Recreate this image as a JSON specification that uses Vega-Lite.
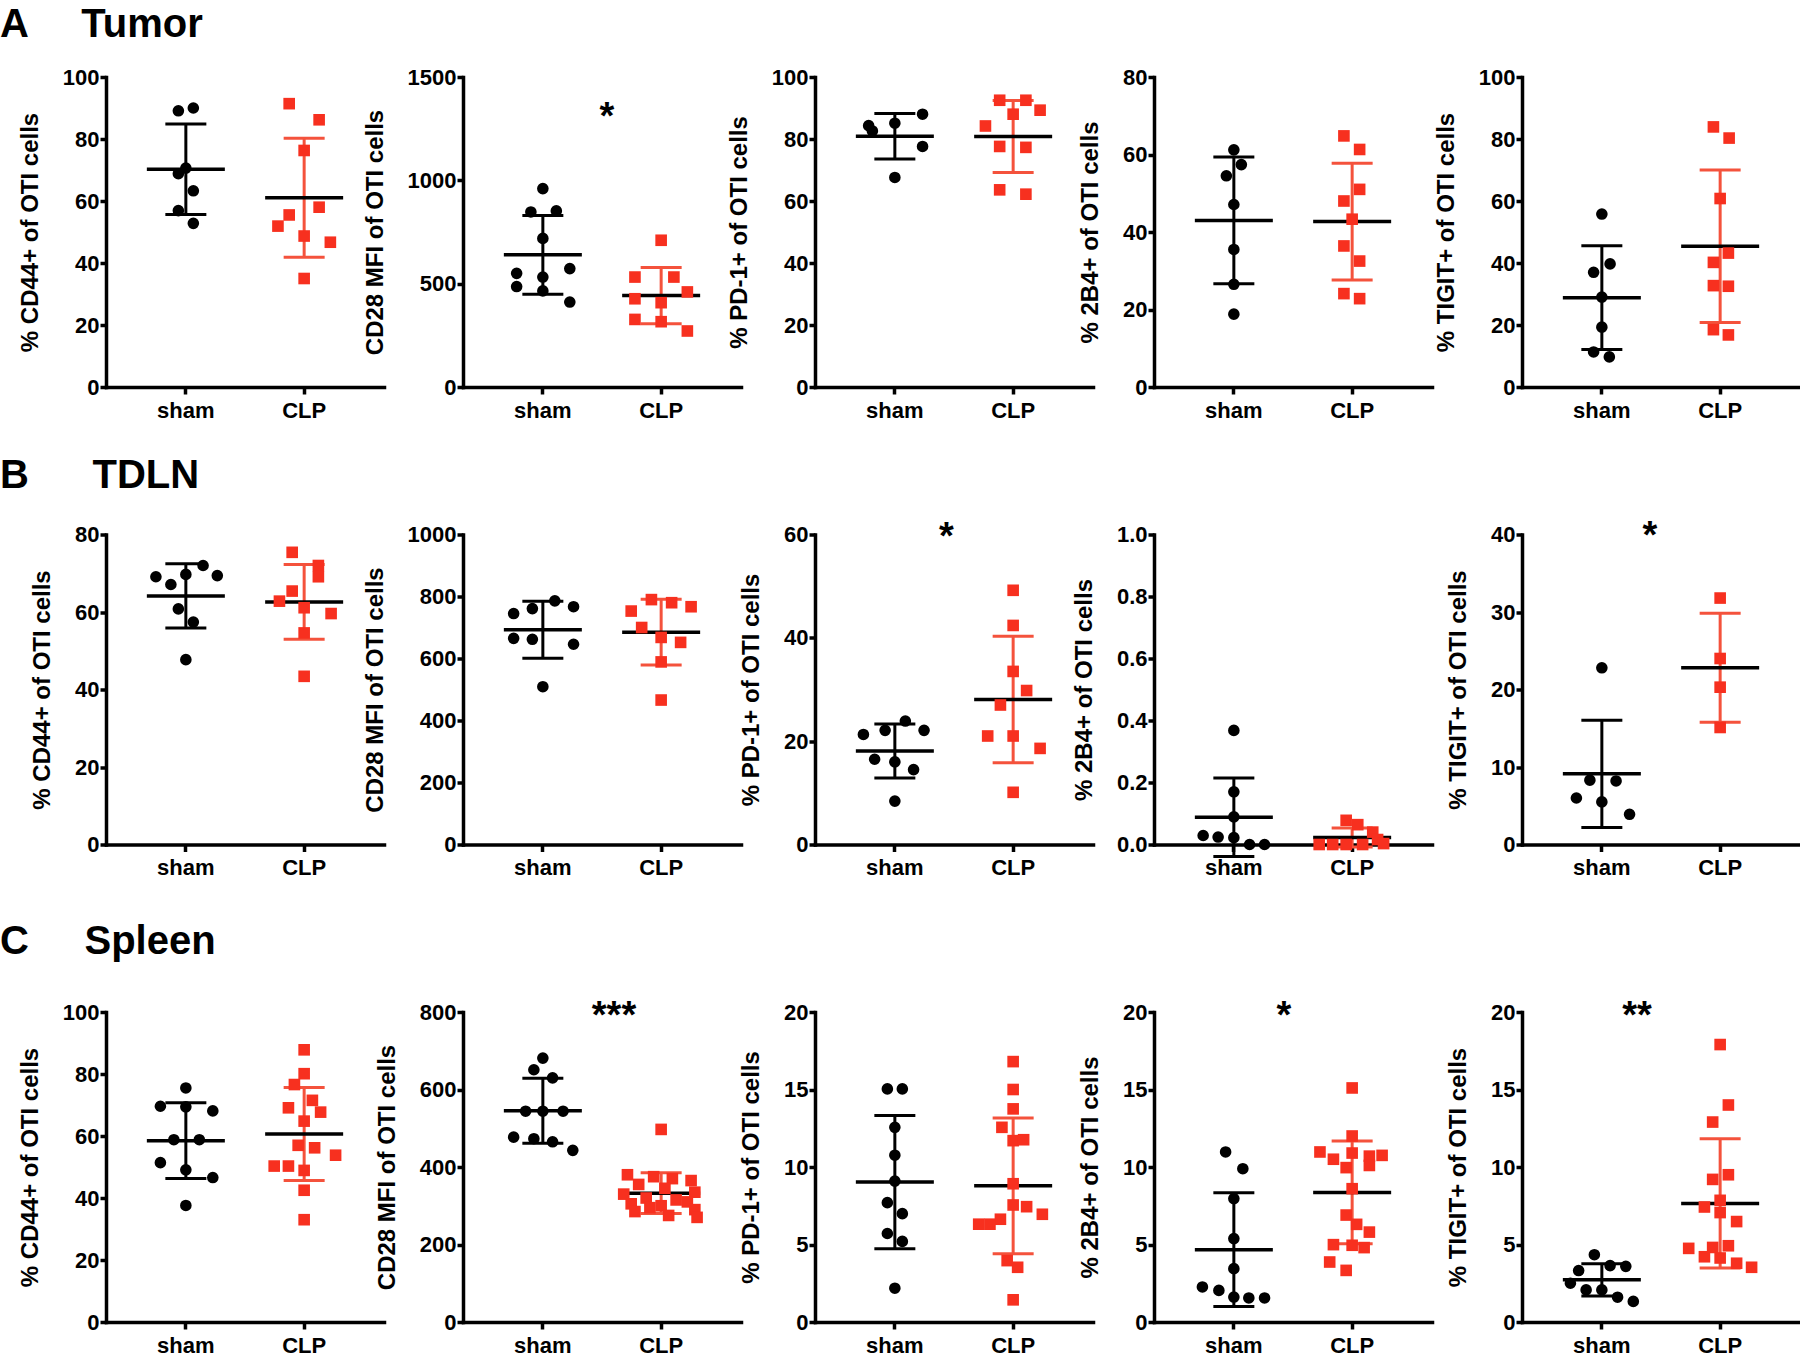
{
"$schema":"https://vega.github.io/schema/vega-lite/v6.json",
"background":"white",
"padding":{"left":0,"top":4,"right":0,"bottom":0},
"columns":5,
"spacing":{"row":147.5,"column":80},
"bounds":"flush",
"config":{
"font":"Liberation Sans",
"view":{"stroke":null},
"axis":{"domainColor":"#000000","domainWidth":3.5,"domainCap":"square","tickColor":"#000000","tickWidth":3.5,"labelFont":"Liberation Sans","labelFontSize":22,"labelFontWeight":"bold","labelColor":"#000000","titleFont":"Liberation Sans","titleFontSize":24,"titleFontWeight":"bold","titleColor":"#000000","grid":false},
"axisX":{"tickSize":7,"labelPadding":6,"labelAngle":0},
"axisY":{"tickSize":6,"labelPadding":1,"titlePadding":20},
"tick":{"opacity":1},
"title":{"font":"Liberation Sans","fontSize":40,"fontWeight":"bold","color":"#000000","anchor":"start","frame":"group"}
},
"datasets":{"pts":[
{"p":"A1","g":"sham","v":89.1,"s":-1},{"p":"A1","g":"sham","v":90.0,"s":1},{"p":"A1","g":"sham","v":70.6,"s":0},{"p":"A1","g":"sham","v":68.8,"s":-1},{"p":"A1","g":"sham","v":63.3,"s":1},{"p":"A1","g":"sham","v":56.9,"s":-1},{"p":"A1","g":"sham","v":52.8,"s":1},
{"p":"A1","g":"CLP","v":91.4,"s":-2},{"p":"A1","g":"CLP","v":86.2,"s":2},{"p":"A1","g":"CLP","v":76.3,"s":0},{"p":"A1","g":"CLP","v":58.0,"s":2},{"p":"A1","g":"CLP","v":55.5,"s":-2},{"p":"A1","g":"CLP","v":51.9,"s":-3.5},{"p":"A1","g":"CLP","v":48.7,"s":0},{"p":"A1","g":"CLP","v":46.7,"s":3.5},{"p":"A1","g":"CLP","v":35.0,"s":0},
{"p":"A2","g":"sham","v":960,"s":0},{"p":"A2","g":"sham","v":847,"s":-1.6},{"p":"A2","g":"sham","v":852,"s":1.8},{"p":"A2","g":"sham","v":719,"s":0},{"p":"A2","g":"sham","v":550,"s":-3.5},{"p":"A2","g":"sham","v":573,"s":3.6},{"p":"A2","g":"sham","v":532,"s":0},{"p":"A2","g":"sham","v":486,"s":-3.5},{"p":"A2","g":"sham","v":465,"s":0},{"p":"A2","g":"sham","v":411,"s":3.6},
{"p":"A2","g":"CLP","v":710,"s":0},{"p":"A2","g":"CLP","v":532,"s":-3.5},{"p":"A2","g":"CLP","v":532,"s":1.7},{"p":"A2","g":"CLP","v":460,"s":3.5},{"p":"A2","g":"CLP","v":427,"s":-3.5},{"p":"A2","g":"CLP","v":408,"s":0},{"p":"A2","g":"CLP","v":327,"s":-3.5},{"p":"A2","g":"CLP","v":316,"s":0},{"p":"A2","g":"CLP","v":271,"s":3.5},
{"p":"A3","g":"sham","v":84.3,"s":-3.5},{"p":"A3","g":"sham","v":82.6,"s":-3},{"p":"A3","g":"sham","v":85.1,"s":0},{"p":"A3","g":"sham","v":88.0,"s":3.7},{"p":"A3","g":"sham","v":77.6,"s":3.7},{"p":"A3","g":"sham","v":67.6,"s":0},
{"p":"A3","g":"CLP","v":92.5,"s":-1.8},{"p":"A3","g":"CLP","v":92.5,"s":1.7},{"p":"A3","g":"CLP","v":89.3,"s":3.6},{"p":"A3","g":"CLP","v":84.2,"s":-3.7},{"p":"A3","g":"CLP","v":88.0,"s":0},{"p":"A3","g":"CLP","v":77.6,"s":-1.8},{"p":"A3","g":"CLP","v":77.3,"s":1.7},{"p":"A3","g":"CLP","v":63.6,"s":-1.8},{"p":"A3","g":"CLP","v":62.2,"s":1.7},
{"p":"A4","g":"sham","v":61.2,"s":0},{"p":"A4","g":"sham","v":57.4,"s":1},{"p":"A4","g":"sham","v":54.5,"s":-1},{"p":"A4","g":"sham","v":47.1,"s":0},{"p":"A4","g":"sham","v":35.5,"s":0},{"p":"A4","g":"sham","v":26.5,"s":0},{"p":"A4","g":"sham","v":18.8,"s":0},
{"p":"A4","g":"CLP","v":64.8,"s":-1.1},{"p":"A4","g":"CLP","v":61.3,"s":1},{"p":"A4","g":"CLP","v":51.0,"s":1},{"p":"A4","g":"CLP","v":48.0,"s":-1.1},{"p":"A4","g":"CLP","v":43.3,"s":0},{"p":"A4","g":"CLP","v":36.4,"s":-1.1},{"p":"A4","g":"CLP","v":32.5,"s":1},{"p":"A4","g":"CLP","v":24.1,"s":-1.1},{"p":"A4","g":"CLP","v":22.8,"s":1},
{"p":"A5","g":"sham","v":55.8,"s":0},{"p":"A5","g":"sham","v":39.7,"s":1.1},{"p":"A5","g":"sham","v":37.0,"s":-1.1},{"p":"A5","g":"sham","v":29.0,"s":0},{"p":"A5","g":"sham","v":19.3,"s":0},{"p":"A5","g":"sham","v":11.3,"s":-1.1},{"p":"A5","g":"sham","v":9.7,"s":1},
{"p":"A5","g":"CLP","v":83.9,"s":-0.9},{"p":"A5","g":"CLP","v":80.3,"s":1.2},{"p":"A5","g":"CLP","v":60.8,"s":0},{"p":"A5","g":"CLP","v":43.2,"s":1.1},{"p":"A5","g":"CLP","v":40.2,"s":-0.9},{"p":"A5","g":"CLP","v":32.7,"s":-0.9},{"p":"A5","g":"CLP","v":32.5,"s":1.1},{"p":"A5","g":"CLP","v":18.5,"s":-0.9},{"p":"A5","g":"CLP","v":16.8,"s":1.1},
{"p":"B1","g":"sham","v":69.1,"s":-4},{"p":"B1","g":"sham","v":67.1,"s":-2},{"p":"B1","g":"sham","v":69.7,"s":0},{"p":"B1","g":"sham","v":72.0,"s":2.3},{"p":"B1","g":"sham","v":69.4,"s":4.2},{"p":"B1","g":"sham","v":60.8,"s":-1},{"p":"B1","g":"sham","v":57.4,"s":1},{"p":"B1","g":"sham","v":47.7,"s":0},
{"p":"B1","g":"CLP","v":75.4,"s":-1.6},{"p":"B1","g":"CLP","v":72.0,"s":1.9},{"p":"B1","g":"CLP","v":69.1,"s":1.9},{"p":"B1","g":"CLP","v":65.4,"s":-1.6},{"p":"B1","g":"CLP","v":62.8,"s":-3.3},{"p":"B1","g":"CLP","v":61.1,"s":0},{"p":"B1","g":"CLP","v":59.6,"s":3.6},{"p":"B1","g":"CLP","v":54.6,"s":0},{"p":"B1","g":"CLP","v":43.4,"s":0},
{"p":"B2","g":"sham","v":786,"s":1.6},{"p":"B2","g":"sham","v":761,"s":-1.4},{"p":"B2","g":"sham","v":767,"s":4.1},{"p":"B2","g":"sham","v":745,"s":-3.9},{"p":"B2","g":"sham","v":665,"s":-3.9},{"p":"B2","g":"sham","v":662,"s":-1.4},{"p":"B2","g":"sham","v":646,"s":4.1},{"p":"B2","g":"sham","v":509,"s":0},
{"p":"B2","g":"CLP","v":790,"s":-1.3},{"p":"B2","g":"CLP","v":780,"s":1.4},{"p":"B2","g":"CLP","v":753,"s":-4},{"p":"B2","g":"CLP","v":767,"s":4},{"p":"B2","g":"CLP","v":700,"s":-2.6},{"p":"B2","g":"CLP","v":668,"s":0},{"p":"B2","g":"CLP","v":652,"s":2.6},{"p":"B2","g":"CLP","v":589,"s":0},{"p":"B2","g":"CLP","v":466,"s":0},
{"p":"B3","g":"sham","v":23.9,"s":1.4},{"p":"B3","g":"sham","v":21.3,"s":-4.2},{"p":"B3","g":"sham","v":22.1,"s":-1.3},{"p":"B3","g":"sham","v":22.1,"s":3.9},{"p":"B3","g":"sham","v":16.5,"s":-2.7},{"p":"B3","g":"sham","v":16.0,"s":0},{"p":"B3","g":"sham","v":14.5,"s":2.5},{"p":"B3","g":"sham","v":8.4,"s":0},
{"p":"B3","g":"CLP","v":49.2,"s":0},{"p":"B3","g":"CLP","v":42.4,"s":0},{"p":"B3","g":"CLP","v":33.5,"s":0},{"p":"B3","g":"CLP","v":29.8,"s":1.8},{"p":"B3","g":"CLP","v":27.0,"s":-1.7},{"p":"B3","g":"CLP","v":21.0,"s":-3.4},{"p":"B3","g":"CLP","v":21.0,"s":0},{"p":"B3","g":"CLP","v":18.6,"s":3.6},{"p":"B3","g":"CLP","v":10.1,"s":0},
{"p":"B4","g":"sham","v":0.368,"s":0},{"p":"B4","g":"sham","v":0.170,"s":0},{"p":"B4","g":"sham","v":0.089,"s":0},{"p":"B4","g":"sham","v":0.029,"s":-4.1},{"p":"B4","g":"sham","v":0.024,"s":-2.1},{"p":"B4","g":"sham","v":0.022,"s":0},{"p":"B4","g":"sham","v":0.0,"s":2.1},{"p":"B4","g":"sham","v":0.0,"s":4.1},
{"p":"B4","g":"CLP","v":0.078,"s":-0.8},{"p":"B4","g":"CLP","v":0.064,"s":0.75},{"p":"B4","g":"CLP","v":0.040,"s":2.75},{"p":"B4","g":"CLP","v":0.016,"s":3.4},{"p":"B4","g":"CLP","v":0.003,"s":4.2},{"p":"B4","g":"CLP","v":0.0,"s":-4.4},{"p":"B4","g":"CLP","v":0.0,"s":-2.6},{"p":"B4","g":"CLP","v":0.0,"s":-0.8},{"p":"B4","g":"CLP","v":0.0,"s":1.4},
{"p":"B5","g":"sham","v":22.8,"s":0},{"p":"B5","g":"sham","v":8.3,"s":-1.6},{"p":"B5","g":"sham","v":8.2,"s":1.9},{"p":"B5","g":"sham","v":6.0,"s":-3.4},{"p":"B5","g":"sham","v":5.5,"s":0},{"p":"B5","g":"sham","v":3.9,"s":3.7},
{"p":"B5","g":"CLP","v":31.8,"s":0},{"p":"B5","g":"CLP","v":24.0,"s":0},{"p":"B5","g":"CLP","v":20.3,"s":0},{"p":"B5","g":"CLP","v":15.1,"s":0},
{"p":"C1","g":"sham","v":75.5,"s":0},{"p":"C1","g":"sham","v":69.6,"s":-3.4},{"p":"C1","g":"sham","v":69.4,"s":0},{"p":"C1","g":"sham","v":68.1,"s":3.6},{"p":"C1","g":"sham","v":58.8,"s":-1.6},{"p":"C1","g":"sham","v":58.8,"s":1.8},{"p":"C1","g":"sham","v":51.4,"s":-3.4},{"p":"C1","g":"sham","v":49.1,"s":0},{"p":"C1","g":"sham","v":46.6,"s":3.6},{"p":"C1","g":"sham","v":37.6,"s":0},
{"p":"C1","g":"CLP","v":87.8,"s":0},{"p":"C1","g":"CLP","v":80.1,"s":0},{"p":"C1","g":"CLP","v":76.6,"s":-1.3},{"p":"C1","g":"CLP","v":71.5,"s":1.1},{"p":"C1","g":"CLP","v":69.1,"s":-2.1},{"p":"C1","g":"CLP","v":67.7,"s":2.2},{"p":"C1","g":"CLP","v":64.8,"s":0},{"p":"C1","g":"CLP","v":57.0,"s":-0.8},{"p":"C1","g":"CLP","v":56.2,"s":1.4},{"p":"C1","g":"CLP","v":53.8,"s":4.2},{"p":"C1","g":"CLP","v":50.3,"s":-4},{"p":"C1","g":"CLP","v":50.3,"s":-2.1},{"p":"C1","g":"CLP","v":48.9,"s":0},{"p":"C1","g":"CLP","v":42.5,"s":0},{"p":"C1","g":"CLP","v":33.0,"s":0},
{"p":"C2","g":"sham","v":681,"s":0},{"p":"C2","g":"sham","v":651,"s":-1.2},{"p":"C2","g":"sham","v":630,"s":1.3},{"p":"C2","g":"sham","v":544,"s":-2.3},{"p":"C2","g":"sham","v":544,"s":0},{"p":"C2","g":"sham","v":544,"s":2.7},{"p":"C2","g":"sham","v":477,"s":-3.9},{"p":"C2","g":"sham","v":473,"s":-1.2},{"p":"C2","g":"sham","v":465,"s":1.3},{"p":"C2","g":"sham","v":443,"s":4},
{"p":"C2","g":"CLP","v":497,"s":0},{"p":"C2","g":"CLP","v":380,"s":-4.5},{"p":"C2","g":"CLP","v":375,"s":-1},{"p":"C2","g":"CLP","v":370,"s":1.5},{"p":"C2","g":"CLP","v":365,"s":4},{"p":"C2","g":"CLP","v":355,"s":-3},{"p":"C2","g":"CLP","v":345,"s":0.5},{"p":"C2","g":"CLP","v":335,"s":4.5},{"p":"C2","g":"CLP","v":330,"s":-5},{"p":"C2","g":"CLP","v":320,"s":-2},{"p":"C2","g":"CLP","v":315,"s":2},{"p":"C2","g":"CLP","v":310,"s":3.5},{"p":"C2","g":"CLP","v":305,"s":-4},{"p":"C2","g":"CLP","v":300,"s":0},{"p":"C2","g":"CLP","v":295,"s":-1.5},{"p":"C2","g":"CLP","v":290,"s":4.5},{"p":"C2","g":"CLP","v":285,"s":-3.5},{"p":"C2","g":"CLP","v":275,"s":1},{"p":"C2","g":"CLP","v":270,"s":4.8},
{"p":"C3","g":"sham","v":15.04,"s":-1},{"p":"C3","g":"sham","v":15.04,"s":1},{"p":"C3","g":"sham","v":12.56,"s":0},{"p":"C3","g":"sham","v":10.76,"s":0},{"p":"C3","g":"sham","v":9.09,"s":0},{"p":"C3","g":"sham","v":7.70,"s":-1},{"p":"C3","g":"sham","v":6.99,"s":1},{"p":"C3","g":"sham","v":5.71,"s":-1},{"p":"C3","g":"sham","v":5.20,"s":1},{"p":"C3","g":"sham","v":2.18,"s":0},
{"p":"C3","g":"CLP","v":16.8,"s":0},{"p":"C3","g":"CLP","v":15.0,"s":0},{"p":"C3","g":"CLP","v":13.75,"s":0},{"p":"C3","g":"CLP","v":12.56,"s":-1.5},{"p":"C3","g":"CLP","v":11.7,"s":0},{"p":"C3","g":"CLP","v":11.76,"s":1.4},{"p":"C3","g":"CLP","v":8.92,"s":0},{"p":"C3","g":"CLP","v":7.55,"s":0},{"p":"C3","g":"CLP","v":7.44,"s":1.8},{"p":"C3","g":"CLP","v":6.95,"s":3.9},{"p":"C3","g":"CLP","v":6.63,"s":-1.7},{"p":"C3","g":"CLP","v":6.31,"s":-4.6},{"p":"C3","g":"CLP","v":6.31,"s":-3.1},{"p":"C3","g":"CLP","v":3.96,"s":-0.8},{"p":"C3","g":"CLP","v":3.53,"s":0.6},{"p":"C3","g":"CLP","v":1.43,"s":0},
{"p":"C4","g":"sham","v":10.97,"s":-1.1},{"p":"C4","g":"sham","v":9.89,"s":1.2},{"p":"C4","g":"sham","v":7.96,"s":0},{"p":"C4","g":"sham","v":5.38,"s":0},{"p":"C4","g":"sham","v":3.44,"s":0},{"p":"C4","g":"sham","v":2.26,"s":-4.2},{"p":"C4","g":"sham","v":2.04,"s":-2},{"p":"C4","g":"sham","v":1.61,"s":0},{"p":"C4","g":"sham","v":1.55,"s":2},{"p":"C4","g":"sham","v":1.55,"s":4.1},
{"p":"C4","g":"CLP","v":15.1,"s":0},{"p":"C4","g":"CLP","v":12.0,"s":0},{"p":"C4","g":"CLP","v":10.97,"s":-4.3},{"p":"C4","g":"CLP","v":10.5,"s":-2.5},{"p":"C4","g":"CLP","v":10.9,"s":0},{"p":"C4","g":"CLP","v":10.7,"s":2.3},{"p":"C4","g":"CLP","v":10.75,"s":4},{"p":"C4","g":"CLP","v":9.96,"s":-0.8},{"p":"C4","g":"CLP","v":10.1,"s":2.3},{"p":"C4","g":"CLP","v":8.6,"s":0},{"p":"C4","g":"CLP","v":6.9,"s":-0.8},{"p":"C4","g":"CLP","v":6.3,"s":0.6},{"p":"C4","g":"CLP","v":5.8,"s":2.3},{"p":"C4","g":"CLP","v":4.99,"s":-2.5},{"p":"C4","g":"CLP","v":4.95,"s":0},{"p":"C4","g":"CLP","v":4.8,"s":1.6},{"p":"C4","g":"CLP","v":3.87,"s":-3},{"p":"C4","g":"CLP","v":3.33,"s":-0.8},
{"p":"C5","g":"sham","v":4.34,"s":-1},{"p":"C5","g":"sham","v":3.32,"s":-3.1},{"p":"C5","g":"sham","v":3.64,"s":1.1},{"p":"C5","g":"sham","v":3.59,"s":3.2},{"p":"C5","g":"sham","v":2.5,"s":-4.2},{"p":"C5","g":"sham","v":2.07,"s":-2.1},{"p":"C5","g":"sham","v":2.07,"s":0},{"p":"C5","g":"sham","v":1.6,"s":2.1},{"p":"C5","g":"sham","v":1.33,"s":4.2},
{"p":"C5","g":"CLP","v":17.9,"s":0},{"p":"C5","g":"CLP","v":14.0,"s":1.1},{"p":"C5","g":"CLP","v":12.9,"s":-1},{"p":"C5","g":"CLP","v":9.2,"s":-1},{"p":"C5","g":"CLP","v":9.5,"s":1.1},{"p":"C5","g":"CLP","v":7.85,"s":0},{"p":"C5","g":"CLP","v":7.42,"s":-2.1},{"p":"C5","g":"CLP","v":7.06,"s":0},{"p":"C5","g":"CLP","v":6.48,"s":2.2},{"p":"C5","g":"CLP","v":4.75,"s":-4.2},{"p":"C5","g":"CLP","v":4.81,"s":-1},{"p":"C5","g":"CLP","v":4.92,"s":1.1},{"p":"C5","g":"CLP","v":4.21,"s":-2.1},{"p":"C5","g":"CLP","v":4.13,"s":0},{"p":"C5","g":"CLP","v":3.79,"s":2.2},{"p":"C5","g":"CLP","v":3.53,"s":4.2}
]},
"concat":[
{"width":277,"height":310,"data":{"name":"pts"},"transform":[{"filter":"datum.p == 'A1'"}],
"title":{"text":"A\u00a0\u00a0\u00a0\u00a0\u2009Tumor","dx":-106,"offset":21.5},
"layer":[
{"transform":[{"aggregate":[{"op":"mean","field":"v","as":"m"},{"op":"stdev","field":"v","as":"sd"}],"groupby":["g"]},{"calculate":"datum.m-datum.sd","as":"lo"},{"calculate":"datum.m+datum.sd","as":"hi"}],
"encoding":{"x":{"field":"g","type":"nominal","scale":{"domain":["sham","CLP"],"range":[0,278],"paddingInner":0,"paddingOuter":0.175},"axis":{"title":null}}},
"layer":[
{"mark":{"type":"rule","strokeWidth":3},"encoding":{"y":{"field":"lo","type":"quantitative","axis":{"title":"% CD44+ of OTI cells","values":[0,20,40,60,80,100],"format":"d"}},"y2":{"field":"hi"},"color":{"condition":{"test":"datum.g == 'CLP'","value":"#f4523c"},"value":"#000000"}}},
{"mark":{"type":"tick","size":41,"thickness":3},"encoding":{"y":{"field":"lo","type":"quantitative","axis":{"title":"% CD44+ of OTI cells","values":[0,20,40,60,80,100],"format":"d"}},"color":{"condition":{"test":"datum.g == 'CLP'","value":"#f4523c"},"value":"#000000"}}},
{"mark":{"type":"tick","size":41,"thickness":3},"encoding":{"y":{"field":"hi","type":"quantitative","axis":{"title":"% CD44+ of OTI cells","values":[0,20,40,60,80,100],"format":"d"}},"color":{"condition":{"test":"datum.g == 'CLP'","value":"#f4523c"},"value":"#000000"}}},
{"mark":{"type":"tick","size":78,"thickness":3.5,"color":"#000000"},"encoding":{"y":{"field":"m","type":"quantitative","axis":{"title":"% CD44+ of OTI cells","values":[0,20,40,60,80,100],"format":"d"}}}}
]},
{"mark":{"type":"point","filled":true,"size":135,"opacity":1,"strokeWidth":0},
"encoding":{"x":{"field":"g","type":"nominal","scale":{"domain":["sham","CLP"],"range":[0,278],"paddingInner":0,"paddingOuter":0.175},"axis":{"title":null}},
"xOffset":{"field":"s","type":"quantitative","scale":{"domain":[-7.9,7.9]}},
"y":{"field":"v","type":"quantitative","scale":{"domain":[0,100],"nice":false},"axis":{"title":"% CD44+ of OTI cells","values":[0,20,40,60,80,100],"format":"d"}},
"shape":{"field":"g","type":"nominal","scale":{"domain":["sham","CLP"],"range":["circle","square"]},"legend":null},
"color":{"field":"g","type":"nominal","scale":{"domain":["sham","CLP"],"range":["#000000","#f7301f"]},"legend":null}}}
]},
{"width":272,"height":310,"data":{"name":"pts"},"transform":[{"filter":"datum.p == 'A2'"}],
"layer":[
{"transform":[{"aggregate":[{"op":"mean","field":"v","as":"m"},{"op":"stdev","field":"v","as":"sd"}],"groupby":["g"]},{"calculate":"datum.m-datum.sd","as":"lo"},{"calculate":"datum.m+datum.sd","as":"hi"}],
"encoding":{"x":{"field":"g","type":"nominal","scale":{"domain":["sham","CLP"],"range":[0,278],"paddingInner":0,"paddingOuter":0.175},"axis":{"title":null}}},
"layer":[
{"mark":{"type":"rule","strokeWidth":3},"encoding":{"y":{"field":"lo","type":"quantitative","axis":{"title":"CD28 MFI of OTI cells","values":[0,500,1000,1500],"format":"d"}},"y2":{"field":"hi"},"color":{"condition":{"test":"datum.g == 'CLP'","value":"#f4523c"},"value":"#000000"}}},
{"mark":{"type":"tick","size":41,"thickness":3},"encoding":{"y":{"field":"lo","type":"quantitative","axis":{"title":"CD28 MFI of OTI cells","values":[0,500,1000,1500],"format":"d"}},"color":{"condition":{"test":"datum.g == 'CLP'","value":"#f4523c"},"value":"#000000"}}},
{"mark":{"type":"tick","size":41,"thickness":3},"encoding":{"y":{"field":"hi","type":"quantitative","axis":{"title":"CD28 MFI of OTI cells","values":[0,500,1000,1500],"format":"d"}},"color":{"condition":{"test":"datum.g == 'CLP'","value":"#f4523c"},"value":"#000000"}}},
{"mark":{"type":"tick","size":78,"thickness":3.5,"color":"#000000"},"encoding":{"y":{"field":"m","type":"quantitative","axis":{"title":"CD28 MFI of OTI cells","values":[0,500,1000,1500],"format":"d"}}}}
]},
{"mark":{"type":"point","filled":true,"size":135,"opacity":1,"strokeWidth":0},
"encoding":{"x":{"field":"g","type":"nominal","scale":{"domain":["sham","CLP"],"range":[0,278],"paddingInner":0,"paddingOuter":0.175},"axis":{"title":null}},
"xOffset":{"field":"s","type":"quantitative","scale":{"domain":[-7.9,7.9]}},
"y":{"field":"v","type":"quantitative","scale":{"domain":[0,1500],"nice":false},"axis":{"title":"CD28 MFI of OTI cells","values":[0,500,1000,1500],"format":"d"}},
"shape":{"field":"g","type":"nominal","scale":{"domain":["sham","CLP"],"range":["circle","square"]},"legend":null},
"color":{"field":"g","type":"nominal","scale":{"domain":["sham","CLP"],"range":["#000000","#f7301f"]},"legend":null}}},
{"transform":[{"aggregate":[{"op":"count","as":"n"}]}],"mark":{"type":"text","text":"*","fontSize":38,"fontWeight":"bold","baseline":"alphabetic","align":"center","dx":8,"color":"#000000"},"encoding":{"y":{"datum":1246,"type":"quantitative","axis":{"title":"CD28 MFI of OTI cells","values":[0,500,1000,1500],"format":"d"}}}}
]},
{"width":259,"height":310,"data":{"name":"pts"},"transform":[{"filter":"datum.p == 'A3'"}],
"layer":[
{"transform":[{"aggregate":[{"op":"mean","field":"v","as":"m"},{"op":"stdev","field":"v","as":"sd"}],"groupby":["g"]},{"calculate":"datum.m-datum.sd","as":"lo"},{"calculate":"datum.m+datum.sd","as":"hi"}],
"encoding":{"x":{"field":"g","type":"nominal","scale":{"domain":["sham","CLP"],"range":[0,278],"paddingInner":0,"paddingOuter":0.175},"axis":{"title":null}}},
"layer":[
{"mark":{"type":"rule","strokeWidth":3},"encoding":{"y":{"field":"lo","type":"quantitative","axis":{"title":"% PD-1+ of OTI cells","values":[0,20,40,60,80,100],"format":"d"}},"y2":{"field":"hi"},"color":{"condition":{"test":"datum.g == 'CLP'","value":"#f4523c"},"value":"#000000"}}},
{"mark":{"type":"tick","size":41,"thickness":3},"encoding":{"y":{"field":"lo","type":"quantitative","axis":{"title":"% PD-1+ of OTI cells","values":[0,20,40,60,80,100],"format":"d"}},"color":{"condition":{"test":"datum.g == 'CLP'","value":"#f4523c"},"value":"#000000"}}},
{"mark":{"type":"tick","size":41,"thickness":3},"encoding":{"y":{"field":"hi","type":"quantitative","axis":{"title":"% PD-1+ of OTI cells","values":[0,20,40,60,80,100],"format":"d"}},"color":{"condition":{"test":"datum.g == 'CLP'","value":"#f4523c"},"value":"#000000"}}},
{"mark":{"type":"tick","size":78,"thickness":3.5,"color":"#000000"},"encoding":{"y":{"field":"m","type":"quantitative","axis":{"title":"% PD-1+ of OTI cells","values":[0,20,40,60,80,100],"format":"d"}}}}
]},
{"mark":{"type":"point","filled":true,"size":135,"opacity":1,"strokeWidth":0},
"encoding":{"x":{"field":"g","type":"nominal","scale":{"domain":["sham","CLP"],"range":[0,278],"paddingInner":0,"paddingOuter":0.175},"axis":{"title":null}},
"xOffset":{"field":"s","type":"quantitative","scale":{"domain":[-7.9,7.9]}},
"y":{"field":"v","type":"quantitative","scale":{"domain":[0,100],"nice":false},"axis":{"title":"% PD-1+ of OTI cells","values":[0,20,40,60,80,100],"format":"d"}},
"shape":{"field":"g","type":"nominal","scale":{"domain":["sham","CLP"],"range":["circle","square"]},"legend":null},
"color":{"field":"g","type":"nominal","scale":{"domain":["sham","CLP"],"range":["#000000","#f7301f"]},"legend":null}}}
]},
{"width":288,"height":310,"data":{"name":"pts"},"transform":[{"filter":"datum.p == 'A4'"}],
"layer":[
{"transform":[{"aggregate":[{"op":"mean","field":"v","as":"m"},{"op":"stdev","field":"v","as":"sd"}],"groupby":["g"]},{"calculate":"datum.m-datum.sd","as":"lo"},{"calculate":"datum.m+datum.sd","as":"hi"}],
"encoding":{"x":{"field":"g","type":"nominal","scale":{"domain":["sham","CLP"],"range":[0,278],"paddingInner":0,"paddingOuter":0.175},"axis":{"title":null}}},
"layer":[
{"mark":{"type":"rule","strokeWidth":3},"encoding":{"y":{"field":"lo","type":"quantitative","axis":{"title":"% 2B4+ of OTI cells","values":[0,20,40,60,80],"format":"d"}},"y2":{"field":"hi"},"color":{"condition":{"test":"datum.g == 'CLP'","value":"#f4523c"},"value":"#000000"}}},
{"mark":{"type":"tick","size":41,"thickness":3},"encoding":{"y":{"field":"lo","type":"quantitative","axis":{"title":"% 2B4+ of OTI cells","values":[0,20,40,60,80],"format":"d"}},"color":{"condition":{"test":"datum.g == 'CLP'","value":"#f4523c"},"value":"#000000"}}},
{"mark":{"type":"tick","size":41,"thickness":3},"encoding":{"y":{"field":"hi","type":"quantitative","axis":{"title":"% 2B4+ of OTI cells","values":[0,20,40,60,80],"format":"d"}},"color":{"condition":{"test":"datum.g == 'CLP'","value":"#f4523c"},"value":"#000000"}}},
{"mark":{"type":"tick","size":78,"thickness":3.5,"color":"#000000"},"encoding":{"y":{"field":"m","type":"quantitative","axis":{"title":"% 2B4+ of OTI cells","values":[0,20,40,60,80],"format":"d"}}}}
]},
{"mark":{"type":"point","filled":true,"size":135,"opacity":1,"strokeWidth":0},
"encoding":{"x":{"field":"g","type":"nominal","scale":{"domain":["sham","CLP"],"range":[0,278],"paddingInner":0,"paddingOuter":0.175},"axis":{"title":null}},
"xOffset":{"field":"s","type":"quantitative","scale":{"domain":[-7.9,7.9]}},
"y":{"field":"v","type":"quantitative","scale":{"domain":[0,80],"nice":false},"axis":{"title":"% 2B4+ of OTI cells","values":[0,20,40,60,80],"format":"d"}},
"shape":{"field":"g","type":"nominal","scale":{"domain":["sham","CLP"],"range":["circle","square"]},"legend":null},
"color":{"field":"g","type":"nominal","scale":{"domain":["sham","CLP"],"range":["#000000","#f7301f"]},"legend":null}}}
]},
{"width":278,"height":310,"data":{"name":"pts"},"transform":[{"filter":"datum.p == 'A5'"}],
"layer":[
{"transform":[{"aggregate":[{"op":"mean","field":"v","as":"m"},{"op":"stdev","field":"v","as":"sd"}],"groupby":["g"]},{"calculate":"datum.m-datum.sd","as":"lo"},{"calculate":"datum.m+datum.sd","as":"hi"}],
"encoding":{"x":{"field":"g","type":"nominal","scale":{"domain":["sham","CLP"],"range":[0,278],"paddingInner":0,"paddingOuter":0.175},"axis":{"title":null}}},
"layer":[
{"mark":{"type":"rule","strokeWidth":3},"encoding":{"y":{"field":"lo","type":"quantitative","axis":{"title":"% TIGIT+ of OTI cells","values":[0,20,40,60,80,100],"format":"d"}},"y2":{"field":"hi"},"color":{"condition":{"test":"datum.g == 'CLP'","value":"#f4523c"},"value":"#000000"}}},
{"mark":{"type":"tick","size":41,"thickness":3},"encoding":{"y":{"field":"lo","type":"quantitative","axis":{"title":"% TIGIT+ of OTI cells","values":[0,20,40,60,80,100],"format":"d"}},"color":{"condition":{"test":"datum.g == 'CLP'","value":"#f4523c"},"value":"#000000"}}},
{"mark":{"type":"tick","size":41,"thickness":3},"encoding":{"y":{"field":"hi","type":"quantitative","axis":{"title":"% TIGIT+ of OTI cells","values":[0,20,40,60,80,100],"format":"d"}},"color":{"condition":{"test":"datum.g == 'CLP'","value":"#f4523c"},"value":"#000000"}}},
{"mark":{"type":"tick","size":78,"thickness":3.5,"color":"#000000"},"encoding":{"y":{"field":"m","type":"quantitative","axis":{"title":"% TIGIT+ of OTI cells","values":[0,20,40,60,80,100],"format":"d"}}}}
]},
{"mark":{"type":"point","filled":true,"size":135,"opacity":1,"strokeWidth":0},
"encoding":{"x":{"field":"g","type":"nominal","scale":{"domain":["sham","CLP"],"range":[0,278],"paddingInner":0,"paddingOuter":0.175},"axis":{"title":null}},
"xOffset":{"field":"s","type":"quantitative","scale":{"domain":[-7.9,7.9]}},
"y":{"field":"v","type":"quantitative","scale":{"domain":[0,100],"nice":false},"axis":{"title":"% TIGIT+ of OTI cells","values":[0,20,40,60,80,100],"format":"d"}},
"shape":{"field":"g","type":"nominal","scale":{"domain":["sham","CLP"],"range":["circle","square"]},"legend":null},
"color":{"field":"g","type":"nominal","scale":{"domain":["sham","CLP"],"range":["#000000","#f7301f"]},"legend":null}}}
]},
{"width":277,"height":329.5,"data":{"name":"pts"},"transform":[{"filter":"datum.p == 'B1'"}],
"title":{"text":"B\u00a0\u00a0\u00a0\u00a0\u00a0\u2009TDLN","dx":-106,"offset":27.5},
"layer":[
{"transform":[{"aggregate":[{"op":"mean","field":"v","as":"m"},{"op":"stdev","field":"v","as":"sd"}],"groupby":["g"]},{"calculate":"datum.m-datum.sd","as":"lo"},{"calculate":"datum.m+datum.sd","as":"hi"}],
"encoding":{"x":{"field":"g","type":"nominal","scale":{"domain":["sham","CLP"],"range":[0,278],"paddingInner":0,"paddingOuter":0.175},"axis":{"title":null,"offset":-19.5}}},
"layer":[
{"mark":{"type":"rule","strokeWidth":3},"encoding":{"y":{"field":"lo","type":"quantitative","axis":{"title":"% CD44+ of OTI cells","values":[0,20,40,60,80],"format":"d"}},"y2":{"field":"hi"},"color":{"condition":{"test":"datum.g == 'CLP'","value":"#f4523c"},"value":"#000000"}}},
{"mark":{"type":"tick","size":41,"thickness":3},"encoding":{"y":{"field":"lo","type":"quantitative","axis":{"title":"% CD44+ of OTI cells","values":[0,20,40,60,80],"format":"d"}},"color":{"condition":{"test":"datum.g == 'CLP'","value":"#f4523c"},"value":"#000000"}}},
{"mark":{"type":"tick","size":41,"thickness":3},"encoding":{"y":{"field":"hi","type":"quantitative","axis":{"title":"% CD44+ of OTI cells","values":[0,20,40,60,80],"format":"d"}},"color":{"condition":{"test":"datum.g == 'CLP'","value":"#f4523c"},"value":"#000000"}}},
{"mark":{"type":"tick","size":78,"thickness":3.5,"color":"#000000"},"encoding":{"y":{"field":"m","type":"quantitative","axis":{"title":"% CD44+ of OTI cells","values":[0,20,40,60,80],"format":"d"}}}}
]},
{"mark":{"type":"point","filled":true,"size":135,"opacity":1,"strokeWidth":0},
"encoding":{"x":{"field":"g","type":"nominal","scale":{"domain":["sham","CLP"],"range":[0,278],"paddingInner":0,"paddingOuter":0.175},"axis":{"title":null,"offset":-19.5}},
"xOffset":{"field":"s","type":"quantitative","scale":{"domain":[-7.9,7.9]}},
"y":{"field":"v","type":"quantitative","scale":{"domain":[0,80],"nice":false,"range":[310,0]},"axis":{"title":"% CD44+ of OTI cells","values":[0,20,40,60,80],"format":"d"}},
"shape":{"field":"g","type":"nominal","scale":{"domain":["sham","CLP"],"range":["circle","square"]},"legend":null},
"color":{"field":"g","type":"nominal","scale":{"domain":["sham","CLP"],"range":["#000000","#f7301f"]},"legend":null}}}
]},
{"width":272,"height":329.5,"data":{"name":"pts"},"transform":[{"filter":"datum.p == 'B2'"}],
"layer":[
{"transform":[{"aggregate":[{"op":"mean","field":"v","as":"m"},{"op":"stdev","field":"v","as":"sd"}],"groupby":["g"]},{"calculate":"datum.m-datum.sd","as":"lo"},{"calculate":"datum.m+datum.sd","as":"hi"}],
"encoding":{"x":{"field":"g","type":"nominal","scale":{"domain":["sham","CLP"],"range":[0,278],"paddingInner":0,"paddingOuter":0.175},"axis":{"title":null,"offset":-19.5}}},
"layer":[
{"mark":{"type":"rule","strokeWidth":3},"encoding":{"y":{"field":"lo","type":"quantitative","axis":{"title":"CD28 MFI of OTI cells","values":[0,200,400,600,800,1000],"format":"d"}},"y2":{"field":"hi"},"color":{"condition":{"test":"datum.g == 'CLP'","value":"#f4523c"},"value":"#000000"}}},
{"mark":{"type":"tick","size":41,"thickness":3},"encoding":{"y":{"field":"lo","type":"quantitative","axis":{"title":"CD28 MFI of OTI cells","values":[0,200,400,600,800,1000],"format":"d"}},"color":{"condition":{"test":"datum.g == 'CLP'","value":"#f4523c"},"value":"#000000"}}},
{"mark":{"type":"tick","size":41,"thickness":3},"encoding":{"y":{"field":"hi","type":"quantitative","axis":{"title":"CD28 MFI of OTI cells","values":[0,200,400,600,800,1000],"format":"d"}},"color":{"condition":{"test":"datum.g == 'CLP'","value":"#f4523c"},"value":"#000000"}}},
{"mark":{"type":"tick","size":78,"thickness":3.5,"color":"#000000"},"encoding":{"y":{"field":"m","type":"quantitative","axis":{"title":"CD28 MFI of OTI cells","values":[0,200,400,600,800,1000],"format":"d"}}}}
]},
{"mark":{"type":"point","filled":true,"size":135,"opacity":1,"strokeWidth":0},
"encoding":{"x":{"field":"g","type":"nominal","scale":{"domain":["sham","CLP"],"range":[0,278],"paddingInner":0,"paddingOuter":0.175},"axis":{"title":null,"offset":-19.5}},
"xOffset":{"field":"s","type":"quantitative","scale":{"domain":[-7.9,7.9]}},
"y":{"field":"v","type":"quantitative","scale":{"domain":[0,1000],"nice":false,"range":[310,0]},"axis":{"title":"CD28 MFI of OTI cells","values":[0,200,400,600,800,1000],"format":"d"}},
"shape":{"field":"g","type":"nominal","scale":{"domain":["sham","CLP"],"range":["circle","square"]},"legend":null},
"color":{"field":"g","type":"nominal","scale":{"domain":["sham","CLP"],"range":["#000000","#f7301f"]},"legend":null}}}
]},
{"width":259,"height":329.5,"data":{"name":"pts"},"transform":[{"filter":"datum.p == 'B3'"}],
"layer":[
{"transform":[{"aggregate":[{"op":"mean","field":"v","as":"m"},{"op":"stdev","field":"v","as":"sd"}],"groupby":["g"]},{"calculate":"datum.m-datum.sd","as":"lo"},{"calculate":"datum.m+datum.sd","as":"hi"}],
"encoding":{"x":{"field":"g","type":"nominal","scale":{"domain":["sham","CLP"],"range":[0,278],"paddingInner":0,"paddingOuter":0.175},"axis":{"title":null,"offset":-19.5}}},
"layer":[
{"mark":{"type":"rule","strokeWidth":3},"encoding":{"y":{"field":"lo","type":"quantitative","axis":{"title":"% PD-1+ of OTI cells","values":[0,20,40,60],"format":"d"}},"y2":{"field":"hi"},"color":{"condition":{"test":"datum.g == 'CLP'","value":"#f4523c"},"value":"#000000"}}},
{"mark":{"type":"tick","size":41,"thickness":3},"encoding":{"y":{"field":"lo","type":"quantitative","axis":{"title":"% PD-1+ of OTI cells","values":[0,20,40,60],"format":"d"}},"color":{"condition":{"test":"datum.g == 'CLP'","value":"#f4523c"},"value":"#000000"}}},
{"mark":{"type":"tick","size":41,"thickness":3},"encoding":{"y":{"field":"hi","type":"quantitative","axis":{"title":"% PD-1+ of OTI cells","values":[0,20,40,60],"format":"d"}},"color":{"condition":{"test":"datum.g == 'CLP'","value":"#f4523c"},"value":"#000000"}}},
{"mark":{"type":"tick","size":78,"thickness":3.5,"color":"#000000"},"encoding":{"y":{"field":"m","type":"quantitative","axis":{"title":"% PD-1+ of OTI cells","values":[0,20,40,60],"format":"d"}}}}
]},
{"mark":{"type":"point","filled":true,"size":135,"opacity":1,"strokeWidth":0},
"encoding":{"x":{"field":"g","type":"nominal","scale":{"domain":["sham","CLP"],"range":[0,278],"paddingInner":0,"paddingOuter":0.175},"axis":{"title":null,"offset":-19.5}},
"xOffset":{"field":"s","type":"quantitative","scale":{"domain":[-7.9,7.9]}},
"y":{"field":"v","type":"quantitative","scale":{"domain":[0,60],"nice":false,"range":[310,0]},"axis":{"title":"% PD-1+ of OTI cells","values":[0,20,40,60],"format":"d"}},
"shape":{"field":"g","type":"nominal","scale":{"domain":["sham","CLP"],"range":["circle","square"]},"legend":null},
"color":{"field":"g","type":"nominal","scale":{"domain":["sham","CLP"],"range":["#000000","#f7301f"]},"legend":null}}},
{"transform":[{"aggregate":[{"op":"count","as":"n"}]}],"mark":{"type":"text","text":"*","fontSize":38,"fontWeight":"bold","baseline":"alphabetic","align":"center","dx":2,"color":"#000000"},"encoding":{"y":{"datum":57.2,"type":"quantitative","axis":{"title":"% PD-1+ of OTI cells","values":[0,20,40,60],"format":"d"}}}}
]},
{"width":288,"height":329.5,"data":{"name":"pts"},"transform":[{"filter":"datum.p == 'B4'"}],
"layer":[
{"transform":[{"aggregate":[{"op":"mean","field":"v","as":"m"},{"op":"stdev","field":"v","as":"sd"}],"groupby":["g"]},{"calculate":"datum.m-datum.sd","as":"lo"},{"calculate":"datum.m+datum.sd","as":"hi"}],
"encoding":{"x":{"field":"g","type":"nominal","scale":{"domain":["sham","CLP"],"range":[0,278],"paddingInner":0,"paddingOuter":0.175},"axis":{"title":null,"offset":-19.5}}},
"layer":[
{"mark":{"type":"rule","strokeWidth":3},"encoding":{"y":{"field":"lo","type":"quantitative","axis":{"title":"% 2B4+ of OTI cells","values":[0,0.2,0.4,0.6,0.8,1.0],"format":".1f"}},"y2":{"field":"hi"},"color":{"condition":{"test":"datum.g == 'CLP'","value":"#f4523c"},"value":"#000000"}}},
{"mark":{"type":"tick","size":41,"thickness":3},"encoding":{"y":{"field":"lo","type":"quantitative","axis":{"title":"% 2B4+ of OTI cells","values":[0,0.2,0.4,0.6,0.8,1.0],"format":".1f"}},"color":{"condition":{"test":"datum.g == 'CLP'","value":"#f4523c"},"value":"#000000"}}},
{"mark":{"type":"tick","size":41,"thickness":3},"encoding":{"y":{"field":"hi","type":"quantitative","axis":{"title":"% 2B4+ of OTI cells","values":[0,0.2,0.4,0.6,0.8,1.0],"format":".1f"}},"color":{"condition":{"test":"datum.g == 'CLP'","value":"#f4523c"},"value":"#000000"}}},
{"mark":{"type":"tick","size":78,"thickness":3.5,"color":"#000000"},"encoding":{"y":{"field":"m","type":"quantitative","axis":{"title":"% 2B4+ of OTI cells","values":[0,0.2,0.4,0.6,0.8,1.0],"format":".1f"}}}}
]},
{"mark":{"type":"point","filled":true,"size":135,"opacity":1,"strokeWidth":0},
"encoding":{"x":{"field":"g","type":"nominal","scale":{"domain":["sham","CLP"],"range":[0,278],"paddingInner":0,"paddingOuter":0.175},"axis":{"title":null,"offset":-19.5}},
"xOffset":{"field":"s","type":"quantitative","scale":{"domain":[-7.9,7.9]}},
"y":{"field":"v","type":"quantitative","scale":{"domain":[0,1],"nice":false,"range":[310,0]},"axis":{"title":"% 2B4+ of OTI cells","values":[0,0.2,0.4,0.6,0.8,1.0],"format":".1f"}},
"shape":{"field":"g","type":"nominal","scale":{"domain":["sham","CLP"],"range":["circle","square"]},"legend":null},
"color":{"field":"g","type":"nominal","scale":{"domain":["sham","CLP"],"range":["#000000","#f7301f"]},"legend":null}}}
]},
{"width":278,"height":329.5,"data":{"name":"pts"},"transform":[{"filter":"datum.p == 'B5'"}],
"layer":[
{"transform":[{"aggregate":[{"op":"mean","field":"v","as":"m"},{"op":"stdev","field":"v","as":"sd"}],"groupby":["g"]},{"calculate":"datum.m-datum.sd","as":"lo"},{"calculate":"datum.m+datum.sd","as":"hi"}],
"encoding":{"x":{"field":"g","type":"nominal","scale":{"domain":["sham","CLP"],"range":[0,278],"paddingInner":0,"paddingOuter":0.175},"axis":{"title":null,"offset":-19.5}}},
"layer":[
{"mark":{"type":"rule","strokeWidth":3},"encoding":{"y":{"field":"lo","type":"quantitative","axis":{"title":"% TIGIT+ of OTI cells","values":[0,10,20,30,40],"format":"d"}},"y2":{"field":"hi"},"color":{"condition":{"test":"datum.g == 'CLP'","value":"#f4523c"},"value":"#000000"}}},
{"mark":{"type":"tick","size":41,"thickness":3},"encoding":{"y":{"field":"lo","type":"quantitative","axis":{"title":"% TIGIT+ of OTI cells","values":[0,10,20,30,40],"format":"d"}},"color":{"condition":{"test":"datum.g == 'CLP'","value":"#f4523c"},"value":"#000000"}}},
{"mark":{"type":"tick","size":41,"thickness":3},"encoding":{"y":{"field":"hi","type":"quantitative","axis":{"title":"% TIGIT+ of OTI cells","values":[0,10,20,30,40],"format":"d"}},"color":{"condition":{"test":"datum.g == 'CLP'","value":"#f4523c"},"value":"#000000"}}},
{"mark":{"type":"tick","size":78,"thickness":3.5,"color":"#000000"},"encoding":{"y":{"field":"m","type":"quantitative","axis":{"title":"% TIGIT+ of OTI cells","values":[0,10,20,30,40],"format":"d"}}}}
]},
{"mark":{"type":"point","filled":true,"size":135,"opacity":1,"strokeWidth":0},
"encoding":{"x":{"field":"g","type":"nominal","scale":{"domain":["sham","CLP"],"range":[0,278],"paddingInner":0,"paddingOuter":0.175},"axis":{"title":null,"offset":-19.5}},
"xOffset":{"field":"s","type":"quantitative","scale":{"domain":[-7.9,7.9]}},
"y":{"field":"v","type":"quantitative","scale":{"domain":[0,40],"nice":false,"range":[310,0]},"axis":{"title":"% TIGIT+ of OTI cells","values":[0,10,20,30,40],"format":"d"}},
"shape":{"field":"g","type":"nominal","scale":{"domain":["sham","CLP"],"range":["circle","square"]},"legend":null},
"color":{"field":"g","type":"nominal","scale":{"domain":["sham","CLP"],"range":["#000000","#f7301f"]},"legend":null}}},
{"transform":[{"aggregate":[{"op":"count","as":"n"}]}],"mark":{"type":"text","text":"*","fontSize":38,"fontWeight":"bold","baseline":"alphabetic","align":"center","dx":-11,"color":"#000000"},"encoding":{"y":{"datum":38.2,"type":"quantitative","axis":{"title":"% TIGIT+ of OTI cells","values":[0,10,20,30,40],"format":"d"}}}}
]},
{"width":277,"height":310,"data":{"name":"pts"},"transform":[{"filter":"datum.p == 'C1'"}],
"title":{"text":"C\u00a0\u00a0\u00a0\u00a0\u00a0Spleen","dx":-106,"offset":39},
"layer":[
{"transform":[{"aggregate":[{"op":"mean","field":"v","as":"m"},{"op":"stdev","field":"v","as":"sd"}],"groupby":["g"]},{"calculate":"datum.m-datum.sd","as":"lo"},{"calculate":"datum.m+datum.sd","as":"hi"}],
"encoding":{"x":{"field":"g","type":"nominal","scale":{"domain":["sham","CLP"],"range":[0,278],"paddingInner":0,"paddingOuter":0.175},"axis":{"title":null}}},
"layer":[
{"mark":{"type":"rule","strokeWidth":3},"encoding":{"y":{"field":"lo","type":"quantitative","axis":{"title":"% CD44+ of OTI cells","values":[0,20,40,60,80,100],"format":"d"}},"y2":{"field":"hi"},"color":{"condition":{"test":"datum.g == 'CLP'","value":"#f4523c"},"value":"#000000"}}},
{"mark":{"type":"tick","size":41,"thickness":3},"encoding":{"y":{"field":"lo","type":"quantitative","axis":{"title":"% CD44+ of OTI cells","values":[0,20,40,60,80,100],"format":"d"}},"color":{"condition":{"test":"datum.g == 'CLP'","value":"#f4523c"},"value":"#000000"}}},
{"mark":{"type":"tick","size":41,"thickness":3},"encoding":{"y":{"field":"hi","type":"quantitative","axis":{"title":"% CD44+ of OTI cells","values":[0,20,40,60,80,100],"format":"d"}},"color":{"condition":{"test":"datum.g == 'CLP'","value":"#f4523c"},"value":"#000000"}}},
{"mark":{"type":"tick","size":78,"thickness":3.5,"color":"#000000"},"encoding":{"y":{"field":"m","type":"quantitative","axis":{"title":"% CD44+ of OTI cells","values":[0,20,40,60,80,100],"format":"d"}}}}
]},
{"mark":{"type":"point","filled":true,"size":135,"opacity":1,"strokeWidth":0},
"encoding":{"x":{"field":"g","type":"nominal","scale":{"domain":["sham","CLP"],"range":[0,278],"paddingInner":0,"paddingOuter":0.175},"axis":{"title":null}},
"xOffset":{"field":"s","type":"quantitative","scale":{"domain":[-7.9,7.9]}},
"y":{"field":"v","type":"quantitative","scale":{"domain":[0,100],"nice":false},"axis":{"title":"% CD44+ of OTI cells","values":[0,20,40,60,80,100],"format":"d"}},
"shape":{"field":"g","type":"nominal","scale":{"domain":["sham","CLP"],"range":["circle","square"]},"legend":null},
"color":{"field":"g","type":"nominal","scale":{"domain":["sham","CLP"],"range":["#000000","#f7301f"]},"legend":null}}}
]},
{"width":272,"height":310,"data":{"name":"pts"},"transform":[{"filter":"datum.p == 'C2'"}],
"layer":[
{"transform":[{"aggregate":[{"op":"mean","field":"v","as":"m"},{"op":"stdev","field":"v","as":"sd"}],"groupby":["g"]},{"calculate":"datum.m-datum.sd","as":"lo"},{"calculate":"datum.m+datum.sd","as":"hi"}],
"encoding":{"x":{"field":"g","type":"nominal","scale":{"domain":["sham","CLP"],"range":[0,278],"paddingInner":0,"paddingOuter":0.175},"axis":{"title":null}}},
"layer":[
{"mark":{"type":"rule","strokeWidth":3},"encoding":{"y":{"field":"lo","type":"quantitative","axis":{"title":"CD28 MFI of OTI cells","values":[0,200,400,600,800],"format":"d"}},"y2":{"field":"hi"},"color":{"condition":{"test":"datum.g == 'CLP'","value":"#f4523c"},"value":"#000000"}}},
{"mark":{"type":"tick","size":41,"thickness":3},"encoding":{"y":{"field":"lo","type":"quantitative","axis":{"title":"CD28 MFI of OTI cells","values":[0,200,400,600,800],"format":"d"}},"color":{"condition":{"test":"datum.g == 'CLP'","value":"#f4523c"},"value":"#000000"}}},
{"mark":{"type":"tick","size":41,"thickness":3},"encoding":{"y":{"field":"hi","type":"quantitative","axis":{"title":"CD28 MFI of OTI cells","values":[0,200,400,600,800],"format":"d"}},"color":{"condition":{"test":"datum.g == 'CLP'","value":"#f4523c"},"value":"#000000"}}},
{"mark":{"type":"tick","size":78,"thickness":3.5,"color":"#000000"},"encoding":{"y":{"field":"m","type":"quantitative","axis":{"title":"CD28 MFI of OTI cells","values":[0,200,400,600,800],"format":"d"}}}}
]},
{"mark":{"type":"point","filled":true,"size":135,"opacity":1,"strokeWidth":0},
"encoding":{"x":{"field":"g","type":"nominal","scale":{"domain":["sham","CLP"],"range":[0,278],"paddingInner":0,"paddingOuter":0.175},"axis":{"title":null}},
"xOffset":{"field":"s","type":"quantitative","scale":{"domain":[-7.9,7.9]}},
"y":{"field":"v","type":"quantitative","scale":{"domain":[0,800],"nice":false},"axis":{"title":"CD28 MFI of OTI cells","values":[0,200,400,600,800],"format":"d"}},
"shape":{"field":"g","type":"nominal","scale":{"domain":["sham","CLP"],"range":["circle","square"]},"legend":null},
"color":{"field":"g","type":"nominal","scale":{"domain":["sham","CLP"],"range":["#000000","#f7301f"]},"legend":null}}},
{"transform":[{"aggregate":[{"op":"count","as":"n"}]}],"mark":{"type":"text","text":"***","fontSize":38,"fontWeight":"bold","baseline":"alphabetic","align":"center","dx":15,"color":"#000000"},"encoding":{"y":{"datum":758.7,"type":"quantitative","axis":{"title":"CD28 MFI of OTI cells","values":[0,200,400,600,800],"format":"d"}}}}
]},
{"width":259,"height":310,"data":{"name":"pts"},"transform":[{"filter":"datum.p == 'C3'"}],
"layer":[
{"transform":[{"aggregate":[{"op":"mean","field":"v","as":"m"},{"op":"stdev","field":"v","as":"sd"}],"groupby":["g"]},{"calculate":"datum.m-datum.sd","as":"lo"},{"calculate":"datum.m+datum.sd","as":"hi"}],
"encoding":{"x":{"field":"g","type":"nominal","scale":{"domain":["sham","CLP"],"range":[0,278],"paddingInner":0,"paddingOuter":0.175},"axis":{"title":null}}},
"layer":[
{"mark":{"type":"rule","strokeWidth":3},"encoding":{"y":{"field":"lo","type":"quantitative","axis":{"title":"% PD-1+ of OTI cells","values":[0,5,10,15,20],"format":"d"}},"y2":{"field":"hi"},"color":{"condition":{"test":"datum.g == 'CLP'","value":"#f4523c"},"value":"#000000"}}},
{"mark":{"type":"tick","size":41,"thickness":3},"encoding":{"y":{"field":"lo","type":"quantitative","axis":{"title":"% PD-1+ of OTI cells","values":[0,5,10,15,20],"format":"d"}},"color":{"condition":{"test":"datum.g == 'CLP'","value":"#f4523c"},"value":"#000000"}}},
{"mark":{"type":"tick","size":41,"thickness":3},"encoding":{"y":{"field":"hi","type":"quantitative","axis":{"title":"% PD-1+ of OTI cells","values":[0,5,10,15,20],"format":"d"}},"color":{"condition":{"test":"datum.g == 'CLP'","value":"#f4523c"},"value":"#000000"}}},
{"mark":{"type":"tick","size":78,"thickness":3.5,"color":"#000000"},"encoding":{"y":{"field":"m","type":"quantitative","axis":{"title":"% PD-1+ of OTI cells","values":[0,5,10,15,20],"format":"d"}}}}
]},
{"mark":{"type":"point","filled":true,"size":135,"opacity":1,"strokeWidth":0},
"encoding":{"x":{"field":"g","type":"nominal","scale":{"domain":["sham","CLP"],"range":[0,278],"paddingInner":0,"paddingOuter":0.175},"axis":{"title":null}},
"xOffset":{"field":"s","type":"quantitative","scale":{"domain":[-7.9,7.9]}},
"y":{"field":"v","type":"quantitative","scale":{"domain":[0,20],"nice":false},"axis":{"title":"% PD-1+ of OTI cells","values":[0,5,10,15,20],"format":"d"}},
"shape":{"field":"g","type":"nominal","scale":{"domain":["sham","CLP"],"range":["circle","square"]},"legend":null},
"color":{"field":"g","type":"nominal","scale":{"domain":["sham","CLP"],"range":["#000000","#f7301f"]},"legend":null}}}
]},
{"width":288,"height":310,"data":{"name":"pts"},"transform":[{"filter":"datum.p == 'C4'"}],
"layer":[
{"transform":[{"aggregate":[{"op":"mean","field":"v","as":"m"},{"op":"stdev","field":"v","as":"sd"}],"groupby":["g"]},{"calculate":"datum.m-datum.sd","as":"lo"},{"calculate":"datum.m+datum.sd","as":"hi"}],
"encoding":{"x":{"field":"g","type":"nominal","scale":{"domain":["sham","CLP"],"range":[0,278],"paddingInner":0,"paddingOuter":0.175},"axis":{"title":null}}},
"layer":[
{"mark":{"type":"rule","strokeWidth":3},"encoding":{"y":{"field":"lo","type":"quantitative","axis":{"title":"% 2B4+ of OTI cells","values":[0,5,10,15,20],"format":"d"}},"y2":{"field":"hi"},"color":{"condition":{"test":"datum.g == 'CLP'","value":"#f4523c"},"value":"#000000"}}},
{"mark":{"type":"tick","size":41,"thickness":3},"encoding":{"y":{"field":"lo","type":"quantitative","axis":{"title":"% 2B4+ of OTI cells","values":[0,5,10,15,20],"format":"d"}},"color":{"condition":{"test":"datum.g == 'CLP'","value":"#f4523c"},"value":"#000000"}}},
{"mark":{"type":"tick","size":41,"thickness":3},"encoding":{"y":{"field":"hi","type":"quantitative","axis":{"title":"% 2B4+ of OTI cells","values":[0,5,10,15,20],"format":"d"}},"color":{"condition":{"test":"datum.g == 'CLP'","value":"#f4523c"},"value":"#000000"}}},
{"mark":{"type":"tick","size":78,"thickness":3.5,"color":"#000000"},"encoding":{"y":{"field":"m","type":"quantitative","axis":{"title":"% 2B4+ of OTI cells","values":[0,5,10,15,20],"format":"d"}}}}
]},
{"mark":{"type":"point","filled":true,"size":135,"opacity":1,"strokeWidth":0},
"encoding":{"x":{"field":"g","type":"nominal","scale":{"domain":["sham","CLP"],"range":[0,278],"paddingInner":0,"paddingOuter":0.175},"axis":{"title":null}},
"xOffset":{"field":"s","type":"quantitative","scale":{"domain":[-7.9,7.9]}},
"y":{"field":"v","type":"quantitative","scale":{"domain":[0,20],"nice":false},"axis":{"title":"% 2B4+ of OTI cells","values":[0,5,10,15,20],"format":"d"}},
"shape":{"field":"g","type":"nominal","scale":{"domain":["sham","CLP"],"range":["circle","square"]},"legend":null},
"color":{"field":"g","type":"nominal","scale":{"domain":["sham","CLP"],"range":["#000000","#f7301f"]},"legend":null}}},
{"transform":[{"aggregate":[{"op":"count","as":"n"}]}],"mark":{"type":"text","text":"*","fontSize":38,"fontWeight":"bold","baseline":"alphabetic","align":"center","dx":-14,"color":"#000000"},"encoding":{"y":{"datum":18.97,"type":"quantitative","axis":{"title":"% 2B4+ of OTI cells","values":[0,5,10,15,20],"format":"d"}}}}
]},
{"width":278,"height":310,"data":{"name":"pts"},"transform":[{"filter":"datum.p == 'C5'"}],
"layer":[
{"transform":[{"aggregate":[{"op":"mean","field":"v","as":"m"},{"op":"stdev","field":"v","as":"sd"}],"groupby":["g"]},{"calculate":"datum.m-datum.sd","as":"lo"},{"calculate":"datum.m+datum.sd","as":"hi"}],
"encoding":{"x":{"field":"g","type":"nominal","scale":{"domain":["sham","CLP"],"range":[0,278],"paddingInner":0,"paddingOuter":0.175},"axis":{"title":null}}},
"layer":[
{"mark":{"type":"rule","strokeWidth":3},"encoding":{"y":{"field":"lo","type":"quantitative","axis":{"title":"% TIGIT+ of OTI cells","values":[0,5,10,15,20],"format":"d"}},"y2":{"field":"hi"},"color":{"condition":{"test":"datum.g == 'CLP'","value":"#f4523c"},"value":"#000000"}}},
{"mark":{"type":"tick","size":41,"thickness":3},"encoding":{"y":{"field":"lo","type":"quantitative","axis":{"title":"% TIGIT+ of OTI cells","values":[0,5,10,15,20],"format":"d"}},"color":{"condition":{"test":"datum.g == 'CLP'","value":"#f4523c"},"value":"#000000"}}},
{"mark":{"type":"tick","size":41,"thickness":3},"encoding":{"y":{"field":"hi","type":"quantitative","axis":{"title":"% TIGIT+ of OTI cells","values":[0,5,10,15,20],"format":"d"}},"color":{"condition":{"test":"datum.g == 'CLP'","value":"#f4523c"},"value":"#000000"}}},
{"mark":{"type":"tick","size":78,"thickness":3.5,"color":"#000000"},"encoding":{"y":{"field":"m","type":"quantitative","axis":{"title":"% TIGIT+ of OTI cells","values":[0,5,10,15,20],"format":"d"}}}}
]},
{"mark":{"type":"point","filled":true,"size":135,"opacity":1,"strokeWidth":0},
"encoding":{"x":{"field":"g","type":"nominal","scale":{"domain":["sham","CLP"],"range":[0,278],"paddingInner":0,"paddingOuter":0.175},"axis":{"title":null}},
"xOffset":{"field":"s","type":"quantitative","scale":{"domain":[-7.9,7.9]}},
"y":{"field":"v","type":"quantitative","scale":{"domain":[0,20],"nice":false},"axis":{"title":"% TIGIT+ of OTI cells","values":[0,5,10,15,20],"format":"d"}},
"shape":{"field":"g","type":"nominal","scale":{"domain":["sham","CLP"],"range":["circle","square"]},"legend":null},
"color":{"field":"g","type":"nominal","scale":{"domain":["sham","CLP"],"range":["#000000","#f7301f"]},"legend":null}}},
{"transform":[{"aggregate":[{"op":"count","as":"n"}]}],"mark":{"type":"text","text":"**","fontSize":38,"fontWeight":"bold","baseline":"alphabetic","align":"center","dx":-24,"color":"#000000"},"encoding":{"y":{"datum":18.97,"type":"quantitative","axis":{"title":"% TIGIT+ of OTI cells","values":[0,5,10,15,20],"format":"d"}}}}
]}
]
}
